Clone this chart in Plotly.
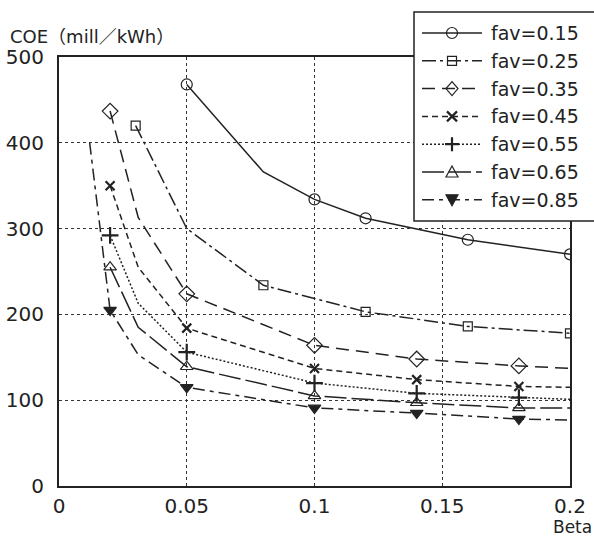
import plotly.graph_objects as go

# ---- data ----
beta_015 = [0.05, 0.08, 0.10, 0.12, 0.16, 0.20]
coe_015 = [468, 366, 334, 312, 287, 270]
mk_015 = [1, 0, 1, 1, 1, 1]

beta_025 = [0.03, 0.05, 0.08, 0.12, 0.16, 0.20]
coe_025 = [420, 300, 234, 203, 186, 178]
mk_025 = [1, 0, 1, 1, 1, 1]

beta_035 = [0.02, 0.031, 0.05, 0.10, 0.14, 0.18, 0.20]
coe_035 = [437, 313, 224, 164, 148, 140, 137]
mk_035 = [1, 0, 1, 1, 1, 1, 0]

beta_045 = [0.02, 0.031, 0.05, 0.10, 0.14, 0.18, 0.20]
coe_045 = [350, 255, 184, 137, 124, 116, 115]
mk_045 = [1, 0, 1, 1, 1, 1, 0]

beta_055 = [0.02, 0.031, 0.05, 0.10, 0.14, 0.18, 0.20]
coe_055 = [292, 213, 156, 120, 108, 103, 101]
mk_055 = [1, 0, 1, 1, 1, 1, 0]

beta_065 = [0.02, 0.031, 0.05, 0.10, 0.14, 0.18, 0.20]
coe_065 = [255, 185, 139, 105, 97, 91, 91]
mk_065 = [1, 0, 1, 1, 1, 1, 0]

beta_085 = [0.012, 0.02, 0.031, 0.05, 0.10, 0.14, 0.18, 0.20]
coe_085 = [400, 205, 153, 115, 91, 85, 78, 77]
mk_085 = [0, 1, 0, 1, 1, 1, 1, 0]

names = ["fav=0.15", "fav=0.25", "fav=0.35", "fav=0.45",
         "fav=0.55", "fav=0.65", "fav=0.85"]
x_ticks = [0, 0.05, 0.1, 0.15, 0.2]
x_ticklabels = ["0", "0.05", "0.1", "0.15", "0.2"]
y_ticks = [0, 100, 200, 300, 400, 500]

# ---- styles ----
INK = "#222222"
FONT = "DejaVu Sans, Noto Sans CJK JP"
series = [
    (beta_015, coe_015, mk_015, "solid", "circle-open", 11),
    (beta_025, coe_025, mk_025, "14px,4px,3px,4px", "square-open", 9),
    (beta_035, coe_035, mk_035, "13px,7px", "diamond-open", 12),
    (beta_045, coe_045, mk_045, "6px,4px", "x-thin-open", 9),
    (beta_055, coe_055, mk_055, "2px,2px", "cross-thin-open", 12),
    (beta_065, coe_065, mk_065, "22px,5px", "triangle-up-open", 11),
    (beta_085, coe_085, mk_085, "12px,5px,4px,5px", "triangle-down", 11),
]

# legend glyph paths (pixel offsets from the anchor, y up)
glyphs = {
    "circle-open": ("circle", None, False, 1.2),
    "square-open": ("rect", None, False, 1.2),
    "diamond-open": ("path", "M0,7 L6,0 L0,-7 L-6,0 Z", False, 1.2),
    "x-thin-open": ("path", "M-5,-5 L5,5 M-5,5 L5,-5", False, 2.2),
    "cross-thin-open": ("path", "M-7,0 L7,0 M0,-7 L0,7", False, 2.2),
    "triangle-up-open": ("path", "M0,6 L6,-5 L-6,-5 Z", False, 1.2),
    "triangle-down": ("path", "M0,-6 L6,5 L-6,5 Z", True, 1.2),
}

# plot-area geometry (pixels) used to place the hand-drawn legend box
L, R, T, B = 59, 570, 57, 486
W, H = 594, 539


def px_x(p):
    return (p - L) / (R - L)


def px_y(p):
    return (B - p) / (B - T)


fig = go.Figure()
for name, (xs, ys, mk, dash, sym, ms) in zip(names, series):
    thin = "thin" in sym
    marker = dict(symbol=sym, size=ms, color=INK,
                  line=dict(color=INK, width=2.2 if thin else 1.2))
    fig.add_trace(go.Scatter(x=xs, y=ys, mode="lines", name=name,
                             line=dict(color=INK, width=1.5, dash=dash),
                             showlegend=False, hoverinfo="skip"))
    mx = [x for x, m in zip(xs, mk) if m]
    my = [y for y, m in zip(ys, mk) if m]
    fig.add_trace(go.Scatter(x=mx, y=my, mode="markers", name=name,
                             marker=marker, showlegend=False,
                             hoverinfo="skip"))

# ---- legend (box, samples, glyphs, labels) ----
shapes = [dict(type="rect", xref="paper", yref="paper", layer="above",
               x0=px_x(414), x1=px_x(610), y0=px_y(12), y1=px_y(221),
               fillcolor="white", line=dict(color=INK, width=1.5))]
annotations = []
for i, (name, (xs, ys, mk, dash, sym, ms)) in enumerate(zip(names, series)):
    yc = px_y(33 + 27.8 * i)
    shapes.append(dict(type="line", xref="paper", yref="paper", layer="above",
                       x0=px_x(422), x1=px_x(482), y0=yc, y1=yc,
                       line=dict(color=INK, width=1.5, dash=dash)))
    kind, path, filled, lw = glyphs[sym]
    g = dict(type=kind, xref="paper", yref="paper", layer="above",
             xsizemode="pixel", ysizemode="pixel",
             xanchor=px_x(452), yanchor=yc,
             line=dict(color=INK, width=lw),
             fillcolor=INK if filled else "rgba(0,0,0,0)")
    if kind == "path":
        g["path"] = path
    else:
        r = 5.5 if kind == "circle" else 4.5
        g.update(x0=-r, x1=r, y0=-r, y1=r)
    shapes.append(g)
    annotations.append(dict(text=name, xref="paper", yref="paper",
                            x=px_x(489), y=yc, xanchor="left",
                            yanchor="middle", showarrow=False,
                            font=dict(family=FONT, size=19, color=INK)))

annotations += [
    dict(text="COE（mill／kWh）", xref="paper", yref="paper",
         x=px_x(8), y=px_y(36), xanchor="left", yanchor="middle",
         showarrow=False, font=dict(family=FONT, size=18, color=INK)),
    dict(text="Beta", xref="paper", yref="paper",
         x=px_x(572), y=px_y(527), xanchor="center", yanchor="middle",
         showarrow=False, font=dict(family=FONT, size=17, color=INK)),
]

fig.update_layout(
    width=W, height=H,
    margin=dict(l=L, r=W - R, t=T, b=H - B, autoexpand=False),
    paper_bgcolor="white", plot_bgcolor="white",
    font=dict(family=FONT, size=20, color=INK),
    showlegend=False,
    xaxis=dict(range=[0, 0.2], tickvals=x_ticks, ticktext=x_ticklabels,
               showgrid=True, griddash="dot", gridcolor="#333333", gridwidth=1,
               zeroline=False, showline=True, linecolor=INK, linewidth=2,
               mirror=True, ticks="", ticklabelstandoff=1),
    yaxis=dict(range=[0, 500], tickvals=y_ticks,
               showgrid=True, griddash="dot", gridcolor="#333333", gridwidth=1,
               zeroline=False, showline=True, linecolor=INK, linewidth=2,
               mirror=True, ticks="", ticklabelstandoff=9),
    shapes=shapes,
    annotations=annotations,
)

fig.write_html("out.html", config={"displayModeBar": False},
               post_script="document.body.style.margin='0';")
